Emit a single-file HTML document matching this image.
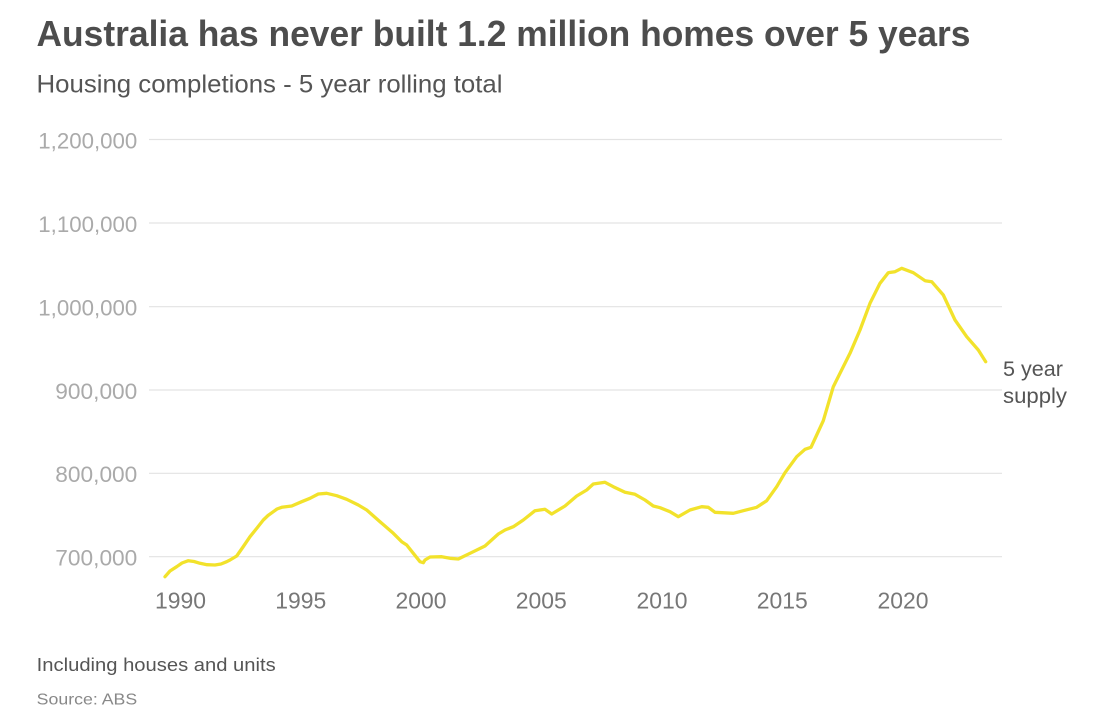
<!DOCTYPE html>
<html>
<head>
<meta charset="utf-8">
<style>
  html, body { margin: 0; padding: 0; background: #ffffff; }
  svg { display: block; }
  text { font-family: "Liberation Sans", sans-serif; }
</style>
</head>
<body>
<svg width="1096" height="720" viewBox="0 0 1096 720" xmlns="http://www.w3.org/2000/svg">
  <rect x="0" y="0" width="1096" height="720" fill="#ffffff"/>

  <!-- Title -->
  <text x="36.5" y="46" font-size="36" font-weight="bold" fill="#4d4d4d" textLength="934" lengthAdjust="spacingAndGlyphs">Australia has never built 1.2 million homes over 5 years</text>
  <!-- Subtitle -->
  <text x="36.5" y="92.5" font-size="25" fill="#555555" textLength="466" lengthAdjust="spacingAndGlyphs">Housing completions - 5 year rolling total</text>

  <!-- Gridlines -->
  <g stroke="#e3e3e3" stroke-width="1.2">
    <line x1="149" y1="139.5" x2="1002" y2="139.5"/>
    <line x1="149" y1="223" x2="1002" y2="223"/>
    <line x1="149" y1="306.7" x2="1002" y2="306.7"/>
    <line x1="149" y1="390" x2="1002" y2="390"/>
    <line x1="149" y1="473.3" x2="1002" y2="473.3"/>
    <line x1="149" y1="556.7" x2="1002" y2="556.7"/>
  </g>

  <!-- Y labels -->
  <g font-size="22" fill="#aaaaaa" text-anchor="end">
    <text x="137.3" y="148.3" textLength="99" lengthAdjust="spacingAndGlyphs">1,200,000</text>
    <text x="137.3" y="231.8" textLength="99" lengthAdjust="spacingAndGlyphs">1,100,000</text>
    <text x="137.3" y="315.3" textLength="99" lengthAdjust="spacingAndGlyphs">1,000,000</text>
    <text x="137.3" y="398.8" textLength="82" lengthAdjust="spacingAndGlyphs">900,000</text>
    <text x="137.3" y="482.2" textLength="82" lengthAdjust="spacingAndGlyphs">800,000</text>
    <text x="137.3" y="565.6" textLength="82" lengthAdjust="spacingAndGlyphs">700,000</text>
  </g>

  <!-- X labels -->
  <g font-size="23" fill="#777777" text-anchor="middle">
    <text x="180.5" y="608.3" textLength="51" lengthAdjust="spacingAndGlyphs">1990</text>
    <text x="300.8" y="608.3" textLength="51" lengthAdjust="spacingAndGlyphs">1995</text>
    <text x="421" y="608.3" textLength="51" lengthAdjust="spacingAndGlyphs">2000</text>
    <text x="541.3" y="608.3" textLength="51" lengthAdjust="spacingAndGlyphs">2005</text>
    <text x="662" y="608.3" textLength="51" lengthAdjust="spacingAndGlyphs">2010</text>
    <text x="782.3" y="608.3" textLength="51" lengthAdjust="spacingAndGlyphs">2015</text>
    <text x="903" y="608.3" textLength="51" lengthAdjust="spacingAndGlyphs">2020</text>
  </g>

  <!-- Series line -->
  <polyline fill="none" stroke="#f2e22b" stroke-width="3.3" stroke-linejoin="round" stroke-linecap="round"
    points="165,576.7 170,571 176.7,566.7 182,563 188.3,560.7 194,561.5 200,563.3 207,564.7 215,565 221,564 226.7,561.7 230,560 236.7,556 243,547 250,536.7 257,528 263.3,520 268,515.5 273.3,511.7 277,509 281.7,507.3 291.7,506 301.7,501.7 310,498.3 318.3,494 326.7,493.3 336.7,495.7 346.7,499.3 358.3,505 366.7,510 380,521.7 393.3,533.3 401.7,541.7 406.7,545 413.3,553.3 420,561.7 423.3,562.7 425,560 430,557 441.7,556.7 450,558.3 458.3,559 470,553.3 485,546 498.3,534 505,530 513.3,526.7 523.3,520 535,510.7 545,509.3 551.7,514 565,506 576.7,496 586.7,490 593.3,484 605,482.3 613.3,486.7 625,492.3 635,494.3 645,500 653.3,506 660,507.7 670,511.7 678.3,516.7 690,510 701.7,506.7 708.3,507.3 715,512.3 733.3,513.3 743.3,510.7 756.7,507.3 766.7,500.7 776.7,486.7 785,472.7 796.7,456.7 805,449.3 811,447.3 816.7,435 823.3,420.7 833.3,386.7 850,353.3 860,330 870,303.3 880,283.3 888.3,272.7 895,271.7 901.7,268.3 913.3,272.7 925,280.7 931.7,281.7 943.3,295 955,320 966.7,336.7 978.3,350 985.7,361.7"/>

  <!-- Series label -->
  <g font-size="21" fill="#555555">
    <text x="1003" y="376" textLength="60" lengthAdjust="spacingAndGlyphs">5 year</text>
    <text x="1003" y="403" textLength="64" lengthAdjust="spacingAndGlyphs">supply</text>
  </g>

  <!-- Footer -->
  <text x="36.7" y="671" font-size="18" fill="#555555" textLength="239" lengthAdjust="spacingAndGlyphs">Including houses and units</text>
  <text x="36.7" y="704.3" font-size="16" fill="#888888" textLength="100.5" lengthAdjust="spacingAndGlyphs">Source: ABS</text>
</svg>
</body>
</html>
